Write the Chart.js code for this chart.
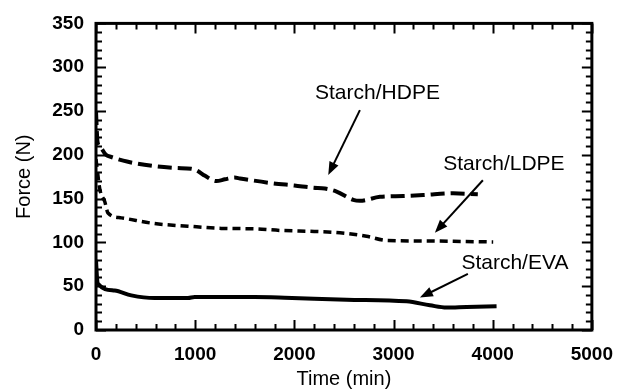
<!DOCTYPE html>
<html lang="en">
<head>
    <meta charset="UTF-8" />
    <title>Force vs Time</title>
    <script src="https://cdn.jsdelivr.net/npm/chart.js"></script>
    <style>
        html, body { margin: 0; padding: 0; background: #fff; }
        canvas { display: block; }
    </style>
</head>
<body>
<canvas id="chart" width="626" height="391"></canvas>

<script>
    // Values
    const hdpeTime  = [0, 15, 37, 100, 154, 323, 591, 800, 961, 1011, 1100, 1213, 1300, 1398, 1452, 1788, 2000, 2190, 2308, 2426, 2594, 2661, 2863, 3100, 3300, 3602, 3850];
    const hdpeForce = [250, 215, 210, 200, 197.5, 192, 187, 185, 184, 182.5, 176, 170, 172, 174, 173, 167.4, 165, 162.5, 161.5, 158, 148.6, 147.5, 152, 153, 154, 156, 155];

    const ldpeTime  = [0, 40, 88, 121, 255, 591, 927, 1263, 1599, 1868, 2200, 2460, 2728, 2930, 3367, 3700, 4005];
    const ldpeForce = [195, 160, 146.7, 133.5, 128, 121.5, 118.5, 116, 115.5, 113.6, 112.5, 111, 107, 102.3, 101.6, 101, 100.5];

    const evaTime  = [0, 10, 20, 188, 356, 591, 927, 995, 1599, 1902, 2527, 3132, 3367, 3535, 3737, 4039];
    const evaForce = [80, 60, 52.7, 45, 39.5, 36.5, 36.5, 37.6, 37.6, 36.9, 34.6, 32.7, 28.2, 25.6, 26.3, 27];

    const xTicks = [0, 1000, 2000, 3000, 4000, 5000];
    const yTicks = [0, 50, 100, 150, 200, 250, 300, 350];

    // labels with arrows, in data units: text pos, arrow start, arrow tip
    const labels = [
        { text: 'Starch/HDPE', x: 2838, y: 264, from: [2661, 251], to: [2342, 177] },
        { text: 'Starch/LDPE', x: 4113, y: 183, from: [3901, 171], to: [3417, 111] },
        { text: 'Starch/EVA',  x: 4224, y: 70,  from: [3750, 64],  to: [3266, 37] }
    ];

    const pts = (xs, ys) => xs.map((x, i) => ({ x: x, y: ys[i] }));

    // frame + inward ticks on all four sides
    const framePlugin = {
        id: 'frame',
        afterDraw(chart) {
            const { ctx, chartArea: a, scales: { x, y } } = chart;
            ctx.save();
            ctx.strokeStyle = '#000';
            ctx.lineWidth = 2;
            ctx.beginPath();
            for (let v = 0; v <= 5000; v += 200) {
                const px = Math.round(x.getPixelForValue(v)) + 0.5;
                const len = v % 1000 === 0 ? 10 : 6;
                ctx.moveTo(px, a.bottom); ctx.lineTo(px, a.bottom - len);
                ctx.moveTo(px, a.top); ctx.lineTo(px, a.top + len);
            }
            for (let v = 0; v <= 350; v += 10) {
                const py = Math.round(y.getPixelForValue(v)) + 0.5;
                const len = v % 50 === 0 ? 10 : 6;
                ctx.moveTo(a.left, py); ctx.lineTo(a.left + len, py);
                ctx.moveTo(a.right, py); ctx.lineTo(a.right - len, py);
            }
            ctx.stroke();
            ctx.lineWidth = 3;
            ctx.strokeRect(a.left, a.top, a.right - a.left, a.bottom - a.top);
            ctx.restore();
        }
    };

    const labelPlugin = {
        id: 'curveLabels',
        afterDatasetsDraw(chart) {
            const { ctx, scales: { x, y } } = chart;
            ctx.save();
            ctx.fillStyle = '#000';
            ctx.strokeStyle = '#000';
            ctx.font = '21px "Liberation Sans"';
            ctx.textAlign = 'center';
            ctx.textBaseline = 'alphabetic';
            labels.forEach(l => {
                ctx.fillText(l.text, x.getPixelForValue(l.x), y.getPixelForValue(l.y));
                const x1 = x.getPixelForValue(l.from[0]), y1 = y.getPixelForValue(l.from[1]);
                const x2 = x.getPixelForValue(l.to[0]), y2 = y.getPixelForValue(l.to[1]);
                const ang = Math.atan2(y2 - y1, x2 - x1);
                const head = 13, half = 5;
                ctx.lineWidth = 2;
                ctx.beginPath();
                ctx.moveTo(x1, y1);
                ctx.lineTo(x2 - Math.cos(ang) * head * 0.8, y2 - Math.sin(ang) * head * 0.8);
                ctx.stroke();
                ctx.beginPath();
                ctx.moveTo(x2, y2);
                ctx.lineTo(x2 - head * Math.cos(ang) + half * Math.sin(ang), y2 - head * Math.sin(ang) - half * Math.cos(ang));
                ctx.lineTo(x2 - head * Math.cos(ang) - half * Math.sin(ang), y2 - head * Math.sin(ang) + half * Math.cos(ang));
                ctx.closePath();
                ctx.fill();
            });
            ctx.restore();
        }
    };

    const tickFont = { family: 'Liberation Sans', size: 19, weight: 'bold' };
    const titleFont = { family: 'Liberation Sans', size: 20 };

    new Chart(document.getElementById('chart'), {
        type: 'line',
        data: {
            datasets: [
                {
                    label: 'Starch/HDPE',
                    data: pts(hdpeTime, hdpeForce),
                    borderColor: '#000',
                    borderWidth: 4,
                    borderDash: [14, 6],
                    cubicInterpolationMode: 'monotone'
                },
                {
                    label: 'Starch/LDPE',
                    data: pts(ldpeTime, ldpeForce),
                    borderColor: '#000',
                    borderWidth: 3.5,
                    borderDash: [8, 5],
                    cubicInterpolationMode: 'monotone'
                },
                {
                    label: 'Starch/EVA',
                    data: pts(evaTime, evaForce),
                    borderColor: '#000',
                    borderWidth: 4,
                    cubicInterpolationMode: 'monotone'
                }
            ]
        },
        options: {
            responsive: false,
            animation: false,
            elements: { point: { radius: 0 } },
            layout: { padding: { top: 20, right: 34, left: 0, bottom: 0 } },
            plugins: {
                legend: { display: false },
                tooltip: { enabled: false }
            },
            scales: {
                x: {
                    type: 'linear',
                    min: 0,
                    max: 5000,
                    afterFit: s => { s.height = 61; },
                    afterBuildTicks: s => { s.ticks = xTicks.map(v => ({ value: v })); },
                    grid: { display: false, drawTicks: false },
                    border: { display: false },
                    ticks: { color: '#000', font: tickFont, padding: 13, maxRotation: 0, callback: v => String(v) },
                    title: { display: true, text: 'Time (min)', color: '#000', font: titleFont, padding: { top: 0, bottom: 0 } }
                },
                y: {
                    type: 'linear',
                    min: 0,
                    max: 350,
                    afterFit: s => { s.width = 96; },
                    afterBuildTicks: s => { s.ticks = yTicks.map(v => ({ value: v })); },
                    grid: { display: false, drawTicks: false },
                    border: { display: false },
                    ticks: { color: '#000', font: tickFont, padding: 12, callback: v => String(v) },
                    title: { display: true, text: 'Force (N)', color: '#000', font: titleFont, padding: { top: 12, bottom: 0 } }
                }
            }
        },
        plugins: [framePlugin, labelPlugin]
    });
</script>
</body>
</html>
